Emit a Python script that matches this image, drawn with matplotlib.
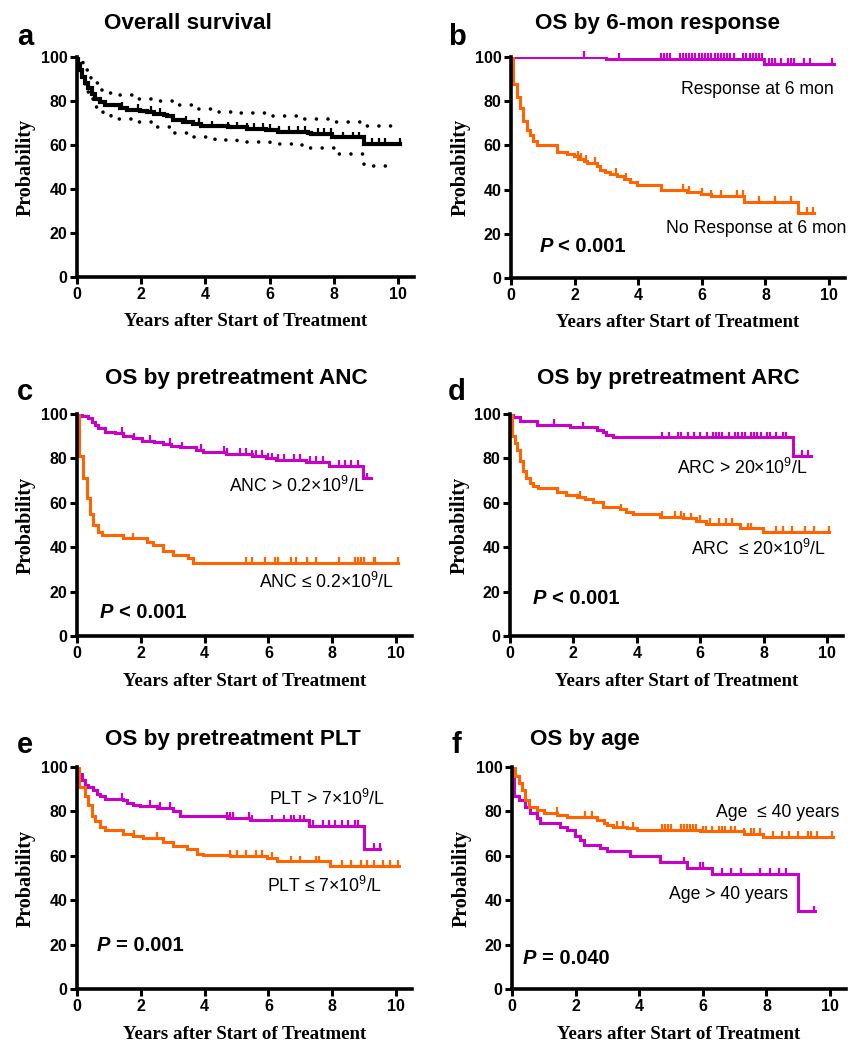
import numpy as np
import matplotlib
matplotlib.use("Agg")
import matplotlib.pyplot as plt

plt.rcParams['font.family'] = ['Liberation Sans', 'DejaVu Sans']
plt.rcParams['mathtext.fontset'] = 'custom'
plt.rcParams['mathtext.rm'] = 'Liberation Sans'
plt.rcParams['mathtext.it'] = 'Liberation Sans:italic'
plt.rcParams['mathtext.bf'] = 'Liberation Sans:bold'

MAG = '#c800c8'
ORG = '#ff6400'

# ---- a: overall survival (step times, survival after step, censor times, CI)
a_t = [0.04, 0.1, 0.17, 0.25, 0.35, 0.46, 0.56, 0.72, 0.88, 1.35, 1.55, 1.97, 2.18, 2.4, 2.7, 2.8,
       3.0, 3.3, 3.6, 3.85, 4.7, 5.3, 5.9, 6.25, 7.2, 7.3, 7.96, 8.95]
a_s = [97, 94, 91, 88, 86, 83, 81, 79.5, 78, 77, 76, 75.5, 75, 74, 73.5, 73,
       71.5, 70.5, 69.5, 68.5, 68, 67.5, 67, 66, 65.5, 65, 63.5, 60.5]
a_end = 10.05
a_cens = [1.4, 1.9, 2.3, 2.6, 3.4, 3.8, 4.2, 4.7, 5.0, 5.3, 5.5, 5.8, 6.0, 6.3, 6.6, 6.9, 7.1,
          7.5, 7.7, 7.9, 8.3, 8.6, 8.8, 9.2, 9.4, 9.6, 10.05]
a_hi_t = [0.18, 0.35, 0.45, 0.55, 0.72, 1.0, 1.35, 1.85, 2.4, 3.0, 3.6, 4.3, 5.0, 6.0, 7.0, 8.0, 8.95]
a_hi = [94, 92, 90, 88, 85, 83.5, 82.5, 81, 80, 78, 76.5, 75, 74.5, 73, 72, 70.5, 68.5]
a_lo_t = [0.1, 0.25, 0.35, 0.5, 0.6, 0.8, 1.05, 1.8, 2.4, 3.0, 3.6, 4.3, 5.0, 6.0, 7.0, 8.0, 8.95]
a_lo = [92, 87, 84, 80.5, 77.5, 74, 72, 70.5, 68, 65.5, 63.5, 62.5, 61.5, 60.5, 58.5, 56, 50.5]
a_ci_end = 9.95

# ---- b: OS by 6-month response
b_mag_t = [3.0, 7.96]
b_mag_s = [99.2, 97]
b_mag_end = 10.15
b_mag_cens = [2.3, 3.4, 4.7, 4.8, 4.9, 5.0, 5.3, 5.4, 5.5, 5.6, 5.7, 5.8, 5.9, 6.0, 6.1, 6.2, 6.3,
              6.4, 6.5, 6.6, 6.7, 6.8, 6.9, 7.0, 7.3, 7.4, 7.5, 7.6, 7.7, 7.8, 7.9, 8.1, 8.2,
              8.3, 8.5, 8.7, 8.8, 8.9, 9.2, 9.4, 10.1]
b_or_t = [0.07, 0.18, 0.28, 0.39, 0.49, 0.6, 0.7, 0.81, 1.44, 1.76, 1.97, 2.12, 2.28, 2.39, 2.7,
          2.8, 2.97, 3.12, 3.33, 3.54, 3.75, 3.96, 4.7, 5.54, 5.96, 6.28, 7.33, 9.01]
b_or_s = [88, 82, 77, 71, 67, 64.5, 62, 60, 57, 56, 55, 54, 53, 52, 50.5,
          49, 48, 47, 46, 45, 43.5, 42, 40, 39, 38, 37, 34.5, 29.5]
b_or_end = 9.54
b_or_cens = [1.45, 2.1, 2.2, 2.35, 2.65, 3.3, 3.6, 4.7, 5.4, 5.6, 6.0, 6.3, 6.6, 7.1, 7.3, 7.8,
             8.3, 8.8, 9.3, 9.5]

# ---- c: OS by pretreatment ANC
c_mag_t = [0.15, 0.35, 0.46, 0.56, 0.67, 0.88, 1.19, 1.45, 1.76, 2.03, 2.4, 2.7, 2.96, 3.22,
           3.74, 3.95, 4.68, 5.5, 5.93, 6.24, 7.18, 7.9, 8.95]
c_mag_s = [99, 98, 96.5, 95, 93.5, 92, 91.5, 90, 89, 88, 87.5, 86.5, 85.5, 85,
           84, 83, 82, 81, 80, 79.5, 78.5, 76.5, 71]
c_mag_end = 9.2
c_mag_cens = [1.4, 1.8, 2.3, 2.9, 3.3, 3.9, 4.6, 4.7, 5.1, 5.3, 5.5, 5.6, 5.8, 6.0, 6.1, 6.3,
              6.5, 6.8, 7.0, 7.3, 7.5, 7.7, 8.2, 8.4, 8.6, 8.8, 9.1]
c_or_t = [0.07, 0.2, 0.3, 0.41, 0.51, 0.67, 0.77, 1.45, 2.18, 2.39, 2.7, 3.0, 3.49, 3.65]
c_or_s = [81, 71, 62, 55, 50, 47, 45.5, 44, 42.5, 41, 38.5, 36.5, 35, 33]
c_or_end = 10.07
c_or_cens = [1.75, 5.3, 5.5, 5.9, 6.2, 6.3, 6.7, 6.85, 7.2, 7.5, 8.2, 8.7, 8.8, 8.9, 9.0, 9.3,
             9.35, 10.05]

# ---- d: OS by pretreatment ARC
d_mag_t = [0.08, 0.31, 0.84, 1.89, 2.73, 2.94, 3.04, 3.25, 8.92]
d_mag_s = [98.5, 97, 95, 94, 93, 92, 90.5, 89.5, 81]
d_mag_end = 9.5
d_mag_cens = [1.4, 2.3, 4.8, 5.0, 5.3, 5.4, 5.6, 5.8, 6.0, 6.2, 6.4, 6.5, 6.6, 6.7, 6.9, 7.1,
              7.2, 7.3, 7.4, 7.6, 7.7, 7.8, 7.9, 8.1, 8.2, 8.4, 8.6, 8.7, 9.2, 9.4]
d_or_t = [0.05, 0.16, 0.21, 0.31, 0.42, 0.52, 0.63, 0.73, 0.89, 1.47, 1.78, 2.1, 2.36, 2.62,
          2.94, 3.46, 3.67, 3.88, 4.72, 5.46, 5.88, 6.19, 7.24, 7.97]
d_or_s = [90, 87, 84, 79, 74.5, 71, 69, 67.5, 66.5, 65, 63.5, 62.5, 61.5, 60.5,
          58, 57, 56, 55, 53.5, 53, 52, 50.5, 48.5, 47]
d_or_end = 10.07
d_or_cens = [2.2, 3.5, 4.8, 5.2, 5.4, 5.5, 5.7, 6.0, 6.3, 6.6, 6.8, 7.0, 7.5, 7.6, 8.4, 8.6,
             8.9, 9.3, 9.6, 10.05]

# ---- e: OS by pretreatment PLT
e_mag_t = [0.07, 0.15, 0.25, 0.36, 0.51, 0.62, 0.72, 0.88, 1.45, 1.56, 1.77, 1.98, 2.5, 3.02,
           3.23, 4.7, 5.43, 7.26, 8.98]
e_mag_s = [97, 94, 92, 91, 89.5, 88, 87, 85.5, 85, 84, 83, 82.5, 81.5, 80,
           78, 77, 76, 73.5, 63]
e_mag_end = 9.5
e_mag_cens = [1.4, 2.3, 2.6, 2.9, 4.7, 4.8, 4.9, 5.4, 5.5, 6.1, 6.5, 6.7, 6.8, 7.0, 7.1, 7.4,
              7.7, 7.9, 8.1, 8.3, 8.5, 8.7, 8.8, 9.3, 9.5]
e_or_t = [0.07, 0.25, 0.36, 0.46, 0.56, 0.72, 0.88, 1.45, 1.77, 2.08, 2.71, 3.02, 3.44, 3.76,
          3.96, 4.8, 5.95, 6.27, 7.94]
e_or_s = [91, 87, 83, 78, 75.5, 73, 71.5, 70, 69, 68, 66, 64.5, 63, 61,
          60.5, 60, 59, 57.5, 55.5]
e_or_end = 10.08
e_or_cens = [1.8, 2.5, 4.8, 5.0, 5.3, 5.6, 5.8, 6.1, 6.7, 7.0, 7.5, 7.6, 8.3, 8.6, 8.9, 9.1,
             9.3, 9.6, 9.8, 10.05]

# ---- f: OS by age
f_or_t = [0.1, 0.21, 0.31, 0.42, 0.52, 0.79, 1.0, 1.41, 1.73, 2.67, 2.88, 2.98, 3.19, 3.61,
          3.93, 5.92, 7.28, 7.9]
f_or_s = [96, 93, 89.5, 85, 82, 80.5, 79.5, 78.5, 77.5, 76, 75, 74, 73, 72.5,
          71.5, 71, 70, 68.5]
f_or_end = 10.1
f_or_cens = [1.4, 2.3, 2.5, 3.3, 3.5, 3.8, 4.7, 4.8, 4.9, 5.0, 5.3, 5.4, 5.5, 5.6, 5.7, 5.8,
             6.0, 6.1, 6.3, 6.5, 6.6, 6.7, 6.9, 7.0, 7.3, 7.5, 7.6, 7.8, 8.2, 8.5, 8.7, 9.0,
             9.3, 9.4, 9.6, 10.05]
f_mag_t = [0.05, 0.21, 0.42, 0.58, 0.79, 0.89, 1.52, 1.73, 1.99, 2.15, 2.25, 2.77, 2.98, 3.72,
           4.66, 5.5, 6.28, 9.0]
f_mag_s = [87, 85, 82, 79.5, 77, 75, 73, 71.5, 69, 67, 65, 63.5, 62, 60,
           57, 54.5, 52, 35]
f_mag_end = 9.53
f_mag_cens = [5.4, 5.9, 6.0, 6.6, 6.9, 7.2, 7.8, 8.1, 8.4, 8.6, 9.5]


W, H = 857, 1043
fig = plt.figure(figsize=(W / 100, H / 100), dpi=100)


def px_axes(left, top, width=335, height=221):
    return fig.add_axes([left / W, 1 - (top + height) / H, width / W, height / H])


def km(ax, t, s, end, cens, color, lw=2.2):
    x = [0] + list(t) + [end]
    y = [100] + list(s) + [s[-1]]
    ax.plot(x, y, drawstyle='steps-post', color=color, lw=lw, solid_joinstyle='miter')
    idx = np.searchsorted(np.array(t), np.array(cens), side='right')
    lev = np.array([100] + list(s))[idx]
    ax.vlines(cens, lev, lev + 2.6, color=color, lw=1.6, clip_on=False)


def style(ax):
    ax.set_xlim(0, 10.5)
    ax.set_ylim(0, 100)
    for side in ['top', 'right']:
        ax.spines[side].set_visible(False)
    for side in ['left', 'bottom']:
        ax.spines[side].set_linewidth(2.6)
    ax.spines['left'].set_bounds(0, 100)
    ax.set_xticks(range(0, 11, 2))
    ax.set_yticks(range(0, 101, 20))
    ax.tick_params(direction='out', length=5, width=2.2, pad=2, labelsize=11.5)
    for lab in ax.get_xticklabels() + ax.get_yticklabels():
        lab.set_fontweight('bold')
    ax.set_ylabel('Probability', family='Liberation Serif', fontweight='bold', fontsize=14.5)
    ax.set_xlabel('Years after Start of Treatment', family='Liberation Serif',
                  fontweight='bold', fontsize=13.6)
    ax.yaxis.set_label_coords(-0.122, 0.5)
    ax.xaxis.set_label_coords(0.5, -0.165)


def ptext(ax, x, y, rest):
    ax.text(x, y, 'P', fontsize=14.5, fontweight='bold', style='italic', va='baseline')
    ax.annotate(rest, (x, y), xytext=(13.5, 0), textcoords='offset points',
                fontsize=14.5, fontweight='bold', va='baseline')


def head(letter, lx, ly, title, tx, ty):
    fig.text(lx / W, 1 - ly / H, letter, fontsize=21, fontweight='bold', va='baseline')
    fig.text(tx / W, 1 - ty / H, title, fontsize=16.2, fontweight='bold', va='baseline')


# a
ax = px_axes(77, 57, 337, 220)
style(ax)
ax.plot([0] + a_hi_t + [a_ci_end], [100] + a_hi + [a_hi[-1]], drawstyle='steps-post',
        color='black', lw=2.6, ls=(0, (0.01, 3.2)), dash_capstyle='round')
ax.plot([0] + a_lo_t + [a_ci_end], [100] + a_lo + [a_lo[-1]], drawstyle='steps-post',
        color='black', lw=2.6, ls=(0, (0.01, 3.2)), dash_capstyle='round')
km(ax, a_t, a_s, a_end, a_cens, 'black', lw=3.0)
head('a', 17, 45, 'Overall survival', 104, 29)

# b
ax = px_axes(511, 57, 334, 221)
style(ax)
km(ax, b_mag_t, b_mag_s, b_mag_end, b_mag_cens, MAG)
km(ax, b_or_t, b_or_s, b_or_end, b_or_cens, ORG)
ax.text(10.16, 83.3, 'Response at 6 mon', fontsize=12.7, ha='right', va='baseline')
ax.text(10.53, 20.4, 'No Response at 6 mon', fontsize=12.7, ha='right', va='baseline')
ptext(ax, 0.9, 11.8, '< 0.001')
head('b', 448, 45, 'OS by 6-mon response', 535, 29)

# c
ax = px_axes(77, 414, 335, 222)
style(ax)
km(ax, c_mag_t, c_mag_s, c_mag_end, c_mag_cens, MAG)
km(ax, c_or_t, c_or_s, c_or_end, c_or_cens, ORG)
ax.text(9.0, 64.9, r'ANC > 0.2×10$^{9}$/L', fontsize=12.7, ha='right', va='baseline')
ax.text(9.94, 21.6, r'ANC ≤ 0.2×10$^{9}$/L', fontsize=12.7, ha='right', va='baseline')
ptext(ax, 0.72, 8.1, '< 0.001')
head('c', 17, 400, 'OS by pretreatment ANC', 105, 384)

# d
ax = px_axes(510, 414, 333, 222)
style(ax)
km(ax, d_mag_t, d_mag_s, d_mag_end, d_mag_cens, MAG)
km(ax, d_or_t, d_or_s, d_or_end, d_or_cens, ORG)
ax.text(9.37, 73.0, r'ARC > 20×10$^{9}$/L', fontsize=12.7, ha='right', va='baseline')
ax.text(9.97, 36.5, r'ARC  ≤ 20×10$^{9}$/L', fontsize=12.7, ha='right', va='baseline')
ptext(ax, 0.72, 14.4, '< 0.001')
head('d', 448, 400, 'OS by pretreatment ARC', 537, 384)

# e
ax = px_axes(77, 767, 335, 222)
style(ax)
km(ax, e_mag_t, e_mag_s, e_mag_end, e_mag_cens, MAG)
km(ax, e_or_t, e_or_s, e_or_end, e_or_cens, ORG)
ax.text(9.66, 82.9, r'PLT > 7×10$^{9}$/L', fontsize=12.7, ha='right', va='baseline')
ax.text(9.56, 43.7, r'PLT ≤ 7×10$^{9}$/L', fontsize=12.7, ha='right', va='baseline')
ptext(ax, 0.62, 17.1, '= 0.001')
head('e', 17, 753, 'OS by pretreatment PLT', 105, 745)

# f
ax = px_axes(512, 767, 334, 222)
style(ax)
km(ax, f_mag_t, f_mag_s, f_mag_end, f_mag_cens, MAG)
km(ax, f_or_t, f_or_s, f_or_end, f_or_cens, ORG)
ax.text(10.3, 77.5, 'Age  ≤ 40 years', fontsize=12.7, ha='right', va='baseline')
ax.text(8.68, 40.5, 'Age > 40 years', fontsize=12.7, ha='right', va='baseline')
ptext(ax, 0.35, 11.3, '= 0.040')
head('f', 451, 753, 'OS by age', 530, 745)

fig.savefig('out.png', dpi=100)
